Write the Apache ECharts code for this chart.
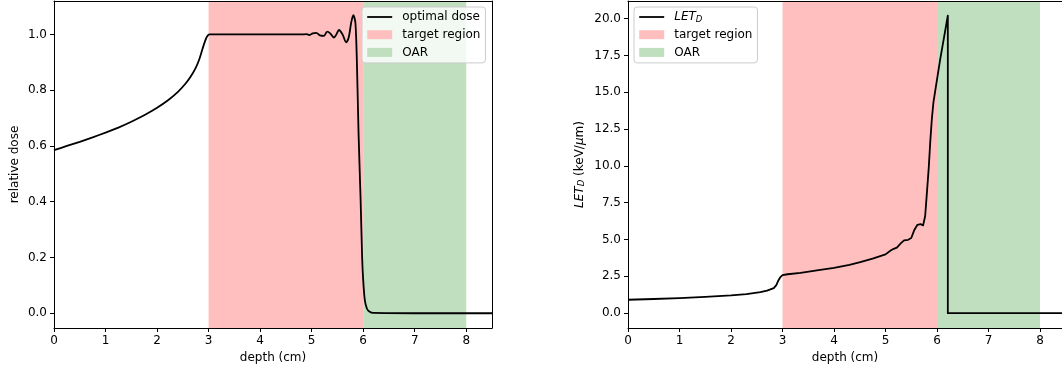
<!DOCTYPE html>
<html>
<head>
<meta charset="utf-8">
<script src="https://cdn.jsdelivr.net/npm/echarts@6/dist/echarts.min.js"></script>
<style>html,body{margin:0;padding:0;background:#fff}#c{width:1062px;height:373px}</style>
</head>
<body>
<div id="c"></div>
<script>
// ---- data ----
const xTicks = [0, 1, 2, 3, 4, 5, 6, 7, 8];
const doseTicks = [0, 0.2, 0.4, 0.6, 0.8, 1.0];
const letTicks = [0, 2.5, 5, 7.5, 10, 12.5, 15, 17.5, 20];
const targetRegion = [3, 6];
const oarRegion = [6, 8];

const doseDepth = [0, 0.25, 0.5, 0.75, 1.0, 1.25, 1.5, 1.75, 2.0, 2.2, 2.4, 2.55, 2.65, 2.75, 2.82, 2.88, 2.93, 2.97, 3.02,
  3.5, 4.0, 4.5, 4.8, 4.9, 4.96, 5.02, 5.09, 5.16, 5.24, 5.30, 5.36, 5.43, 5.48, 5.53, 5.60, 5.67, 5.72, 5.77, 5.81,
  5.85, 5.88, 5.91, 5.95, 5.98, 6.00, 6.03, 6.07, 6.12, 6.20, 7.0, 8.5];
const doseValue = [0.585, 0.600, 0.615, 0.631, 0.648, 0.666, 0.687, 0.710, 0.737, 0.762, 0.793, 0.823, 0.848, 0.880, 0.911, 0.947, 0.975, 0.993, 1.0,
  1.0, 1.0, 1.0, 1.0, 1.001, 0.998, 1.004, 1.006, 0.997, 0.995, 1.010, 1.004, 0.989, 1.000, 1.016, 1.000, 0.972, 0.990, 1.045, 1.069,
  1.040, 0.886, 0.647, 0.408, 0.200, 0.120, 0.050, 0.018, 0.006, 0.001, 0.0, 0.0];

const letDepth = [0, 0.5, 1.0, 1.5, 2.0, 2.3, 2.57, 2.7, 2.83, 2.88, 2.92, 2.96, 3.0, 3.1, 3.35, 3.7, 4.0, 4.3, 4.51, 4.75,
  5.0, 5.10, 5.16, 5.22, 5.30, 5.36, 5.44, 5.50, 5.56, 5.62, 5.68, 5.73, 5.77, 5.80, 5.84, 5.87, 5.90, 5.93, 5.97, 6.06, 6.16, 6.21, 6.21, 8.5];
const letValue = [0.91, 0.96, 1.02, 1.10, 1.20, 1.29, 1.43, 1.53, 1.70, 1.90, 2.22, 2.45, 2.58, 2.64, 2.74, 2.92, 3.08, 3.28, 3.47, 3.70,
  3.99, 4.25, 4.37, 4.45, 4.75, 4.94, 4.98, 5.10, 5.65, 6.00, 6.05, 5.96, 6.6, 8.0, 9.9, 11.7, 13.2, 14.3, 15.2, 17.2, 19.2, 20.2, 0, 0];

// ---- build ----
const zip = (a, b) => a.map((v, i) => [v, b[i]]);
const FONT = 'DejaVu Sans';
const FS = 12;
const pink = '#ffbfbf', green = '#bfdfbf';

function xAxisFor(gi, xmax) {
  return [{
    gridIndex: gi, type: 'value', min: 0, max: xmax, z: 10,
    name: 'depth (cm)', nameLocation: 'middle', nameGap: 21,
    nameTextStyle: {fontFamily: FONT, fontSize: FS, color: '#000'},
    axisLine: {show: true, onZero: false, lineStyle: {color: '#000', width: 1}},
    axisTick: {show: true, length: 4, inside: false, customValues: xTicks, lineStyle: {color: '#000', width: 1}},
    axisLabel: {show: true, margin: 7, customValues: xTicks, fontFamily: FONT, fontSize: FS, color: '#000',
      formatter: v => String(v)},
    splitLine: {show: false}
  }, {
    gridIndex: gi, type: 'value', min: 0, max: xmax, position: 'top', z: 10,
    axisLine: {show: true, onZero: false, lineStyle: {color: '#000', width: 1}},
    axisTick: {show: false}, axisLabel: {show: false}, splitLine: {show: false}
  }];
}
function yAxisFor(gi, min, max, ticks, name, gap, rich, showRight) {
  return [{
    gridIndex: gi, type: 'value', min: min, max: max, z: 10,
    name: name, nameLocation: 'middle', nameGap: gap, nameRotate: 90,
    nameTextStyle: {fontFamily: FONT, fontSize: FS, color: '#000', rich: rich},
    axisLine: {show: true, onZero: false, lineStyle: {color: '#000', width: 1}},
    axisTick: {show: true, length: 4, customValues: ticks, lineStyle: {color: '#000', width: 1}},
    axisLabel: {show: true, margin: 7, customValues: ticks, fontFamily: FONT, fontSize: FS, color: '#000',
      formatter: v => Number(v).toFixed(1)},
    splitLine: {show: false}
  }, {
    gridIndex: gi, type: 'value', min: min, max: max, position: 'right', z: 10,
    axisLine: {show: showRight, onZero: false, lineStyle: {color: '#000', width: 1}},
    axisTick: {show: false}, axisLabel: {show: false}, splitLine: {show: false}
  }];
}
function regionSeries(name, color, range, xi, yi) {
  return {
    name: name, type: 'line', data: [], xAxisIndex: xi, yAxisIndex: yi, color: color, z: 1,
    symbol: 'none',
    markArea: {silent: true, itemStyle: {color: color, opacity: 1}, data: [[{xAxis: range[0]}, {xAxis: range[1]}]]}
  };
}
const richLet = {
  i: {fontFamily: FONT, fontSize: FS, fontStyle: 'italic', color: '#000'},
  s: {fontFamily: FONT, fontSize: 8.5, fontStyle: 'italic', color: '#000', verticalAlign: 'bottom', lineHeight: 9},
  n: {fontFamily: FONT, fontSize: FS, color: '#000'}
};
function legendFor(left, names) {
  return {
    orient: 'vertical', left: left, top: 7,
    padding: [3, 5, 3.5, 4.3], itemGap: 3.7, itemWidth: 25, itemHeight: 9,
    backgroundColor: 'rgba(255,255,255,0.8)', borderColor: '#cccccc', borderWidth: 1, borderRadius: 3,
    textStyle: {fontFamily: FONT, fontSize: FS, color: '#000', lineHeight: 14, padding: [0, 0, 0, 5], rich: {
      i: {fontFamily: FONT, fontSize: FS, fontStyle: 'italic', color: '#000', lineHeight: 14},
      s: {fontFamily: FONT, fontSize: 8.5, fontStyle: 'italic', color: '#000', verticalAlign: 'bottom', lineHeight: 10}
    }},
    formatter: n => n === 'LET_D' ? '{i|LET}{s|D}' : n,
    data: names.map(n => n === 'optimal dose' || n === 'LET_D'
      ? {name: n, itemStyle: {opacity: 0}, lineStyle: {color: '#000', width: 1.8}}
      : {name: n, icon: 'rect'}),
    selectedMode: false
  };
}

const option = {
  animation: false,
  backgroundColor: '#fff',
  grid: [
    {left: 54, top: 1, width: 438, height: 327},
    {left: 628, top: 1, width: 434, height: 327}
  ],
  xAxis: [...xAxisFor(0, 8.5), ...xAxisFor(1, 8.427)],
  yAxis: [
    ...yAxisFor(0, -0.053, 1.12, doseTicks, 'relative dose', 33, {}, true),
    ...yAxisFor(1, -1.01, 21.2, letTicks, '{i|LET}{s|D}{n| (keV/}{i|μ}{n|m)}', 42, richLet, false)
  ],
  legend: [
    legendFor(362, ['optimal dose', 'target region', 'OAR']),
    legendFor(634, ['LET_D', 'target region', 'OAR'])
  ],
  series: [
    regionSeries('target region', pink, targetRegion, 0, 0),
    regionSeries('OAR', green, oarRegion, 0, 0),
    {name: 'optimal dose', type: 'line', xAxisIndex: 0, yAxisIndex: 0, data: zip(doseDepth, doseValue),
      symbol: 'none', smooth: 0.3, color: '#000', lineStyle: {color: '#000', width: 1.8}, z: 5},
    regionSeries('target region', pink, targetRegion, 2, 2),
    regionSeries('OAR', green, oarRegion, 2, 2),
    {name: 'LET_D', type: 'line', xAxisIndex: 2, yAxisIndex: 2, data: zip(letDepth, letValue),
      symbol: 'none', smooth: false, color: '#000', lineStyle: {color: '#000', width: 1.8, join: 'round'}, z: 5}
  ]
};
const chart = echarts.init(document.getElementById('c'), null, {renderer: 'canvas'});
chart.setOption(option);
</script>
</body>
</html>
